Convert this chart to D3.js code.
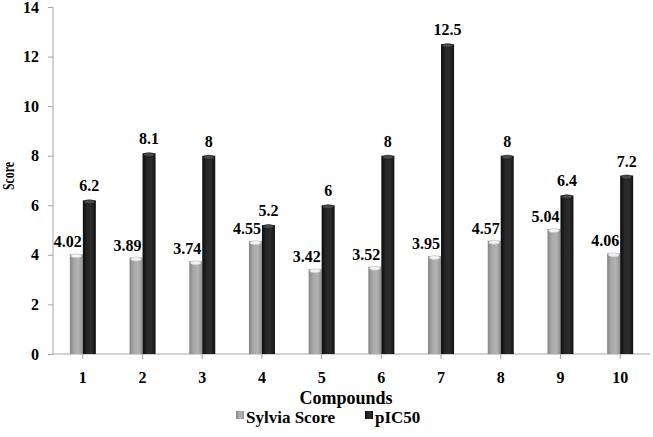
<!DOCTYPE html>
<html>
<head>
<meta charset="utf-8">
<script src="https://cdn.jsdelivr.net/npm/d3@7"></script>
<style>
  body { margin: 0; background: #fff; }
  svg { display: block; font-family: "Liberation Serif", "Times New Roman", serif; font-weight: bold; }
</style>
</head>
<body>
<svg id="chart"></svg>
<script>
// data
const compounds = ["1", "2", "3", "4", "5", "6", "7", "8", "9", "10"];
const sylvia = [4.02, 3.89, 3.74, 4.55, 3.42, 3.52, 3.95, 4.57, 5.04, 4.06];
const pic50 = [6.2, 8.1, 8, 5.2, 6, 8, 12.5, 8, 6.4, 7.2];
const yTicks = [0, 2, 4, 6, 8, 10, 12, 14];
const seriesNames = ["Sylvia Score", "pIC50"];

const width = 653;
const height = 437;
const plotLeft = 53;
const plotRight = 650;
const plotTop = 7;
const plotBottom = 354;
const barW = 13;
const axisColor = "#a6a6a6";

const svg = d3.select("#chart").attr("width", width).attr("height", height);

// cylinder-ish shading
const defs = svg.append("defs");
const grads = [
  { id: "gGray", stops: ["#858585", "#a9a9a9", "#b3b3b3", "#8f8f8f"] },
  { id: "gBlack", stops: ["#0c0c0c", "#262626", "#2c2c2c", "#101010"] },
];
grads.forEach((g) => {
  const lg = defs.append("linearGradient").attr("id", g.id)
    .attr("x1", "0").attr("x2", "1").attr("y1", "0").attr("y2", "0");
  g.stops.forEach((c, i) => {
    lg.append("stop").attr("offset", i / (g.stops.length - 1)).attr("stop-color", c);
  });
});

const xScale = d3.scaleBand().domain(compounds).range([plotLeft, plotRight]);
const yScale = d3.scaleLinear().domain([0, 14]).range([plotBottom, plotTop]);

// axes
const yAxis = d3.axisLeft(yScale).tickValues(yTicks).tickSize(5).tickPadding(9);
const gy = svg.append("g").attr("transform", "translate(" + plotLeft + ",0)").call(yAxis);
gy.select(".domain").attr("stroke", axisColor).attr("d", "M0," + plotTop + "V" + plotBottom);
gy.selectAll(".tick line").attr("stroke", axisColor);
gy.selectAll(".tick text").attr("font-size", 16).attr("fill", "#000")
  .attr("font-family", "Liberation Serif").attr("font-weight", "bold");

const xAxis = d3.axisBottom(xScale).tickSize(5).tickPadding(13);
const gx = svg.append("g").attr("transform", "translate(0," + plotBottom + ")").call(xAxis);
gx.select(".domain").attr("stroke", axisColor).attr("d", "M" + plotLeft + ",0H" + plotRight);
gx.selectAll(".tick line").attr("stroke", axisColor);
gx.selectAll(".tick text").attr("font-size", 16).attr("fill", "#000")
  .attr("font-family", "Liberation Serif").attr("font-weight", "bold");

// bars
const rows = compounds.map((c, i) => ({ c: c, s: sylvia[i], p: pic50[i] }));

const drawBars = (key, offset, fill, capFill, capStroke) => {
  const g = svg.append("g");
  g.selectAll("rect")
    .data(rows)
    .enter()
    .append("rect")
    .attr("x", (d) => xScale(d.c) + xScale.bandwidth() / 2 + offset)
    .attr("y", (d) => yScale(d[key]))
    .attr("width", barW)
    .attr("height", (d) => plotBottom - yScale(d[key]))
    .attr("fill", fill);
  g.selectAll("ellipse")
    .data(rows)
    .enter()
    .append("ellipse")
    .attr("cx", (d) => xScale(d.c) + xScale.bandwidth() / 2 + offset + barW / 2)
    .attr("cy", (d) => yScale(d[key]) + 1.5)
    .attr("rx", barW / 2 - 1)
    .attr("ry", 2)
    .attr("fill", capFill)
    .attr("stroke", capStroke)
    .attr("stroke-width", 0.6);
};
drawBars("s", -barW, "url(#gGray)", "#f2f2f2", "#bdbdbd");
drawBars("p", 0, "url(#gBlack)", "#4a4a4a", "#111");

// value labels
svg.append("g").selectAll("text")
  .data(rows)
  .enter()
  .append("text")
  .attr("x", (d) => xScale(d.c) + xScale.bandwidth() / 2 - 1)
  .attr("y", (d) => yScale(d.s) - 7)
  .attr("text-anchor", "end")
  .attr("font-size", 16)
  .text((d) => d.s);

svg.append("g").selectAll("text")
  .data(rows)
  .enter()
  .append("text")
  .attr("x", (d) => xScale(d.c) + xScale.bandwidth() / 2 + barW / 2)
  .attr("y", (d) => yScale(d.p) - 9)
  .attr("text-anchor", "middle")
  .attr("font-size", 16)
  .text((d) => d.p);

// titles
svg.append("text")
  .attr("x", 346)
  .attr("y", 404)
  .attr("text-anchor", "middle")
  .attr("font-size", 18)
  .text("Compounds");

svg.append("text")
  .attr("transform", "translate(14,176) rotate(-90)")
  .attr("text-anchor", "middle")
  .attr("font-size", 16)
  .attr("textLength", 28)
  .attr("lengthAdjust", "spacingAndGlyphs")
  .text("Score");

// legend
const legend = svg.append("g");
const legendX = [236, 365];
const legendFill = ["url(#gGray)", "url(#gBlack)"];
seriesNames.forEach((name, i) => {
  legend.append("rect")
    .attr("x", legendX[i]).attr("y", 411)
    .attr("width", 8).attr("height", 8)
    .attr("fill", legendFill[i]);
  legend.append("text")
    .attr("x", legendX[i] + 10).attr("y", 423)
    .attr("font-size", 17)
    .text(name);
});
</script>
</body>
</html>
